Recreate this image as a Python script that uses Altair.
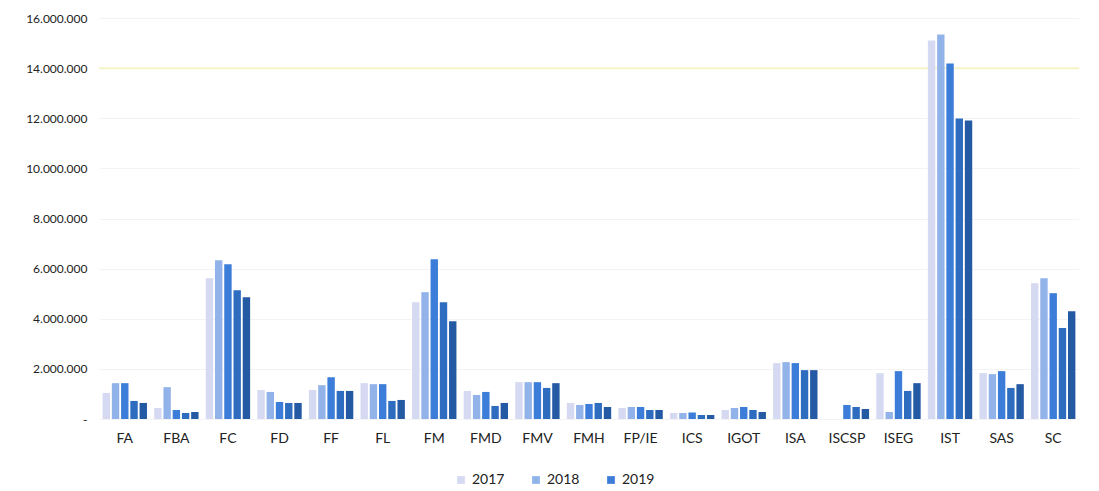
import altair as alt
import pandas as pd

categories = ["FA", "FBA", "FC", "FD", "FF", "FL", "FM", "FMD", "FMV", "FMH",
              "FP/IE", "ICS", "IGOT", "ISA", "ISCSP", "ISEG", "IST", "SAS", "SC"]
series = ["2017", "2018", "2019", "2020", "2021"]

s2017 = [1040000, 440000, 5620000, 1160000, 1160000, 1430000, 4660000, 1120000, 1470000, 640000,
         440000, 240000, 360000, 2230000, 0, 1830000, 15100000, 1830000, 5420000]
s2018 = [1430000, 1270000, 6330000, 1080000, 1350000, 1390000, 5060000, 960000, 1470000, 560000,
         480000, 240000, 440000, 2270000, 0, 280000, 15340000, 1790000, 5620000]
s2019 = [1430000, 360000, 6170000, 680000, 1670000, 1390000, 6370000, 1080000, 1470000, 600000,
         480000, 260000, 480000, 2230000, 560000, 1910000, 14180000, 1910000, 5020000]
s2020 = [720000, 240000, 5140000, 640000, 1120000, 720000, 4660000, 520000, 1240000, 640000,
         360000, 160000, 360000, 1950000, 480000, 1120000, 11990000, 1240000, 3630000]
s2021 = [640000, 280000, 4860000, 640000, 1120000, 760000, 3900000, 640000, 1430000, 480000,
         360000, 160000, 280000, 1950000, 400000, 1430000, 11910000, 1390000, 4300000]

colors = ["#d5d9f1", "#92b3ea", "#3b7dd8", "#2d6cbf", "#2459a3"]
legend_years = ["2017", "2018", "2019"]
highlight_level = [14000000]

rows = []
for name, vals in zip(series, [s2017, s2018, s2019, s2020, s2021]):
    for c, v in zip(categories, vals):
        rows.append({"cat": c, "series": name, "value": v})
df = pd.DataFrame(rows)

label_expr = ("datum.value == 0 ? '-' : "
              "replace(format(datum.value, ','), regexp(',', 'g'), '.')")

bars = alt.Chart(df).mark_bar().encode(
    x=alt.X("cat:N", sort=categories, title=None,
            scale=alt.Scale(paddingInner=0.14, paddingOuter=0.07),
            axis=alt.Axis(labelAngle=0, labelFontSize=14, labelColor="#222222",
                          labelFont="Lato", labelPadding=12, ticks=False,
                          domain=False, grid=False)),
    xOffset=alt.XOffset("series:N", sort=series,
                        scale=alt.Scale(paddingInner=0.2)),
    y=alt.Y("value:Q", title=None,
            scale=alt.Scale(domain=[0, 16000000]),
            axis=alt.Axis(values=list(range(0, 16000001, 2000000)),
                          labelExpr=label_expr, labelFontSize=12,
                          labelColor="#222222", labelFont="Lato",
                          labelPadding=12, ticks=False, domain=False,
                          grid=True, gridColor="#f3f3f3")),
    color=alt.Color("series:N", sort=series,
                    scale=alt.Scale(domain=series, range=colors),
                    legend=alt.Legend(title=None, values=legend_years,
                                      orient="none", direction="horizontal",
                                      legendX=355, legendY=455,
                                      symbolType="square", symbolSize=60,
                                      symbolStrokeWidth=0,
                                      labelFontSize=14, labelFont="Lato",
                                      labelColor="#222222",
                                      columnPadding=24)),
)

rule = alt.Chart(pd.DataFrame({"y": highlight_level})).mark_rule(
    color="#f3f6c4", strokeWidth=2
).encode(y="y:Q")

chart = alt.layer(rule, bars).properties(
    width=980, height=401,
    background="white",
    autosize=alt.AutoSizeParams(type="none"),
    padding={"left": 91, "top": 10, "right": 10, "bottom": 72},
).configure_view(stroke=None, strokeWidth=0)

chart.save("out.html", embed_options={"renderer": "svg", "actions": False})
